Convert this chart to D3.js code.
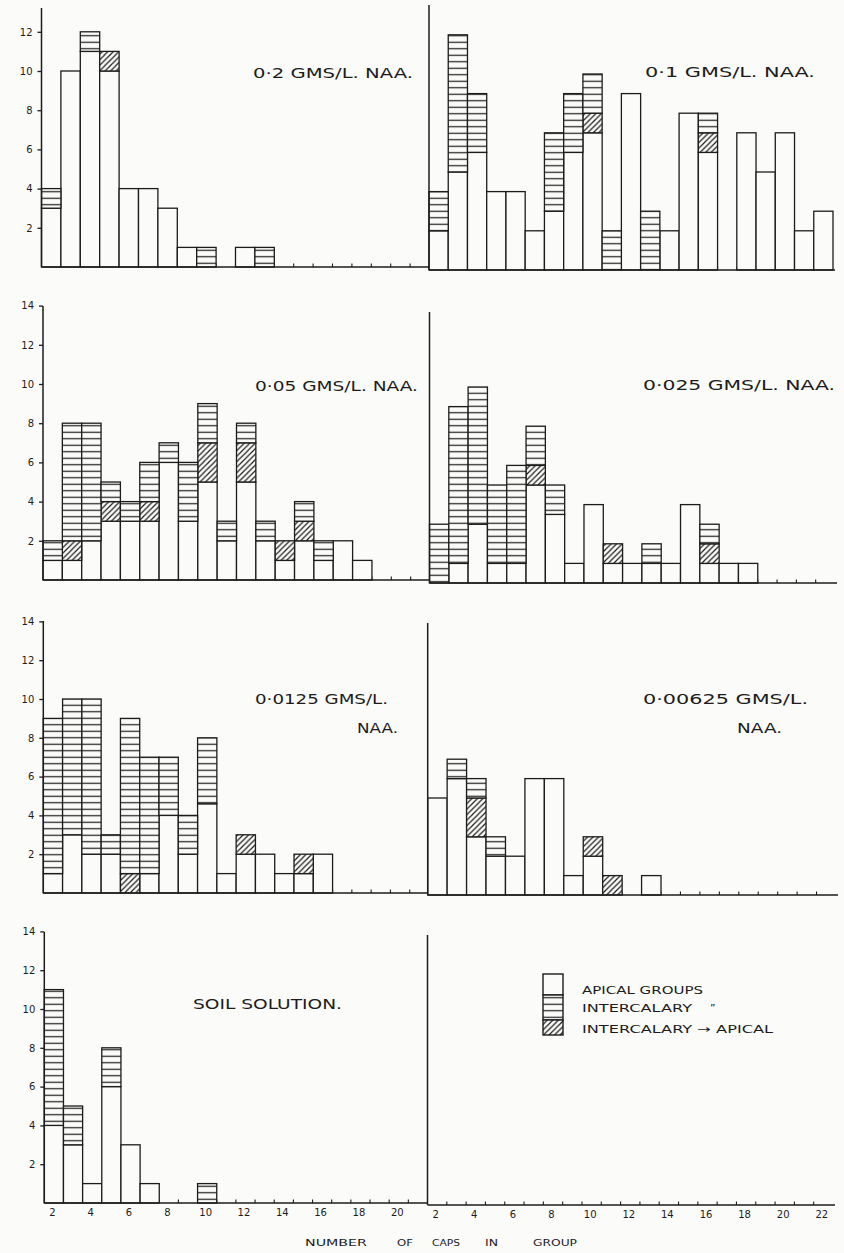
<!DOCTYPE html>
<html>
<head>
<meta charset="utf-8">
<script src="https://cdn.jsdelivr.net/npm/d3@7"></script>
<style>
  html, body { margin: 0; padding: 0; background: #fbfbfa; }
  svg { display: block; }
  text { font-family: "DejaVu Sans", sans-serif; fill: #1c1c1c; }
</style>
</head>
<body>
<svg id="chart" width="844" height="1253"></svg>
<script>
// Number of caps in a group (x categories)
const leftGroups  = d3.range(2, 22);   // 2 … 21
const rightGroups = d3.range(2, 23);   // 2 … 22
const leftAxisLabels  = [2, 4, 6, 8, 10, 12, 14, 16, 18, 20];
const rightAxisLabels = [2, 4, 6, 8, 10, 12, 14, 16, 18, 20, 22];
const yTicksShort = [2, 4, 6, 8, 10, 12];
const yTicksFull  = [2, 4, 6, 8, 10, 12, 14];

// 0·2 g/l NAA
const apical02   = [3, 10, 11, 10, 4, 4, 3, 1, 0, 0, 1, 0, 0, 0, 0, 0, 0, 0, 0, 0];
const convert02  = [0, 0, 0, 1, 0, 0, 0, 0, 0, 0, 0, 0, 0, 0, 0, 0, 0, 0, 0, 0];
const intercal02 = [1, 0, 1, 0, 0, 0, 0, 0, 1, 0, 0, 1, 0, 0, 0, 0, 0, 0, 0, 0];

// 0·1 g/l NAA
const apical01   = [2, 5, 6, 4, 4, 2, 3, 6, 7, 0, 9, 0, 2, 8, 6, 0, 7, 5, 7, 2, 3];
const convert01  = [0, 0, 0, 0, 0, 0, 0, 0, 1, 0, 0, 0, 0, 0, 1, 0, 0, 0, 0, 0, 0];
const intercal01 = [2, 7, 3, 0, 0, 0, 4, 3, 2, 2, 0, 3, 0, 0, 1, 0, 0, 0, 0, 0, 0];

// 0·05 g/l NAA
const apical005   = [1, 1, 2, 3, 3, 3, 6, 3, 5, 2, 5, 2, 1, 2, 1, 2, 1, 0, 0, 0];
const convert005  = [0, 1, 0, 1, 0, 1, 0, 0, 2, 0, 2, 0, 1, 1, 0, 0, 0, 0, 0, 0];
const intercal005 = [1, 6, 6, 1, 1, 2, 1, 3, 2, 1, 1, 1, 0, 1, 1, 0, 0, 0, 0, 0];

// 0·025 g/l NAA
const apical0025   = [0, 1, 3, 1, 1, 5, 3.5, 1, 4, 1, 1, 1, 1, 4, 1, 1, 1, 0, 0, 0, 0];
const convert0025  = [0, 0, 0, 0, 0, 1, 0, 0, 0, 1, 0, 0, 0, 0, 1, 0, 0, 0, 0, 0, 0];
const intercal0025 = [3, 8, 7, 4, 5, 2, 1.5, 0, 0, 0, 0, 1, 0, 0, 1, 0, 0, 0, 0, 0, 0];

// 0·0125 g/l NAA
const apical00125   = [1, 3, 2, 2, 0, 1, 4, 2, 4.6, 1, 2, 2, 1, 1, 2, 0, 0, 0, 0, 0];
const convert00125  = [0, 0, 0, 0, 1, 0, 0, 0, 0, 0, 1, 0, 0, 1, 0, 0, 0, 0, 0, 0];
const intercal00125 = [8, 7, 8, 1, 8, 6, 3, 2, 3.4, 0, 0, 0, 0, 0, 0, 0, 0, 0, 0, 0];

// 0·00625 g/l NAA
const apical000625   = [5, 6, 3, 2, 2, 6, 6, 1, 2, 0, 0, 1, 0, 0, 0, 0, 0, 0, 0, 0, 0];
const convert000625  = [0, 0, 2, 0, 0, 0, 0, 0, 1, 1, 0, 0, 0, 0, 0, 0, 0, 0, 0, 0, 0];
const intercal000625 = [0, 1, 1, 1, 0, 0, 0, 0, 0, 0, 0, 0, 0, 0, 0, 0, 0, 0, 0, 0, 0];

// Soil solution
const apicalSoil   = [4, 3, 1, 6, 3, 1, 0, 0, 0, 0, 0, 0, 0, 0, 0, 0, 0, 0, 0, 0];
const convertSoil  = [0, 0, 0, 0, 0, 0, 0, 0, 0, 0, 0, 0, 0, 0, 0, 0, 0, 0, 0, 0];
const intercalSoil = [7, 2, 0, 2, 0, 0, 0, 0, 1, 0, 0, 0, 0, 0, 0, 0, 0, 0, 0, 0];

const legendLabels = ["APICAL GROUPS", "INTERCALARY", "INTERCALARY \u2192 APICAL"];
const segmentKeys = ["apical", "convert", "intercal"];

const INK = "#1c1c1c";
const svg = d3.select("#chart");

// fill patterns: plain, horizontal rule (intercalary), diagonal hatch (intercalary -> apical)
const defs = svg.append("defs");
const stripes = defs.append("pattern").attr("id", "stripes")
  .attr("patternUnits", "userSpaceOnUse").attr("width", 10).attr("height", 6.5);
stripes.append("rect").attr("width", 10).attr("height", 6.5).attr("fill", "#fbfbfa");
stripes.append("line").attr("x1", 0).attr("x2", 10).attr("y1", 3.25).attr("y2", 3.25)
  .attr("stroke", INK).attr("stroke-width", 1.2);
const hatch = defs.append("pattern").attr("id", "hatch")
  .attr("patternUnits", "userSpaceOnUse").attr("width", 5.5).attr("height", 5.5);
hatch.append("rect").attr("width", 5.5).attr("height", 5.5).attr("fill", "#fbfbfa");
hatch.append("path").attr("d", "M0,5.5L5.5,0M-1.4,1.4L1.4,-1.4M4.1,6.9L6.9,4.1")
  .attr("stroke", INK).attr("stroke-width", 1.2);
const fills = { apical: "#fbfbfa", convert: "url(#hatch)", intercal: "url(#stripes)" };

const panels = [
  { groups: leftGroups, series: [apical02, convert02, intercal02], x0: 41.5, x1: 429.5,
    base: 267, unit: 19.6, top: 8, yTicks: yTicksShort, side: "left",
    titles: [{ text: "0\u00b72 GMS/L. NAA.", x: 253, y: 78, w: 160 }] },
  { groups: rightGroups, series: [apical01, convert01, intercal01], x0: 429, x1: 833,
    base: 270, unit: 19.6, top: 5, side: "right",
    titles: [{ text: "0\u00b71 GMS/L. NAA.", x: 645, y: 77, w: 170 }] },
  { groups: leftGroups, series: [apical005, convert005, intercal005], x0: 43, x1: 430,
    base: 580, unit: 19.6, top: 306, yTicks: yTicksFull, side: "left",
    titles: [{ text: "0\u00b705 GMS/L. NAA.", x: 255, y: 391, w: 163 }] },
  { groups: rightGroups, series: [apical0025, convert0025, intercal0025], x0: 429.5, x1: 835,
    base: 583, unit: 19.6, top: 312, side: "right",
    titles: [{ text: "0\u00b7025 GMS/L. NAA.", x: 643, y: 390, w: 192 }] },
  { groups: leftGroups, series: [apical00125, convert00125, intercal00125], x0: 43.3, x1: 429,
    base: 893, unit: 19.4, top: 621, yTicks: yTicksFull, side: "left",
    titles: [{ text: "0\u00b70125 GMS/L.", x: 255, y: 704, w: 133 },
             { text: "NAA.", x: 357, y: 733, w: 41 }] },
  { groups: rightGroups, series: [apical000625, convert000625, intercal000625], x0: 427.7, x1: 836,
    base: 895, unit: 19.4, top: 623, side: "right",
    titles: [{ text: "0\u00b700625 GMS/L.", x: 643, y: 704, w: 165 },
             { text: "NAA.", x: 737, y: 733, w: 45 }] },
  { groups: leftGroups, series: [apicalSoil, convertSoil, intercalSoil], x0: 44.3, x1: 427.5,
    base: 1203, unit: 19.4, top: 932, yTicks: yTicksFull, side: "left", xLabels: leftAxisLabels,
    titles: [{ text: "SOIL SOLUTION.", x: 193, y: 1009, w: 149 }] },
  { groups: rightGroups, series: null, x0: 427.5, x1: 833,
    base: 1205, unit: 19.4, top: 935, side: "right", xLabels: rightAxisLabels, titles: [] }
];

panels.forEach(p => {
  const g = svg.append("g");
  const x = d3.scaleBand().domain(p.groups).range([p.x0, p.x1]).paddingInner(0).paddingOuter(0);
  const y = d3.scaleLinear().domain([0, 14]).range([p.base, p.base - 14 * p.unit]);

  // small upward ticks on the base line at every group boundary
  g.append("g").selectAll("line").data(p.groups.slice(1))
    .join("line")
    .attr("x1", d => x(d)).attr("x2", d => x(d))
    .attr("y1", p.base).attr("y2", p.base - 3.5)
    .attr("stroke", INK).attr("stroke-width", 1.1);

  // stacked bars
  if (p.series) {
    const rows = p.groups.map((grp, i) => ({
      group: grp, apical: p.series[0][i], convert: p.series[1][i], intercal: p.series[2][i]
    }));
    const stacked = d3.stack().keys(segmentKeys)(rows);
    stacked.forEach(layer => {
      g.append("g").selectAll("rect")
        .data(layer.filter(d => d[1] > d[0]))
        .join("rect")
        .attr("x", d => x(d.data.group))
        .attr("width", x.bandwidth())
        .attr("y", d => y(d[1]))
        .attr("height", d => y(d[0]) - y(d[1]))
        .attr("fill", fills[layer.key])
        .attr("stroke", INK).attr("stroke-width", 1.3);
    });
  }

  // base line and vertical axis line
  g.append("line").attr("x1", p.x0).attr("x2", p.x1 + (p.side === "right" ? 2 : 0))
    .attr("y1", p.base).attr("y2", p.base).attr("stroke", INK).attr("stroke-width", 1.5);
  g.append("line").attr("x1", p.x0).attr("x2", p.x0)
    .attr("y1", p.top).attr("y2", p.base).attr("stroke", INK).attr("stroke-width", 1.5);

  // value axis on the left-hand panels
  if (p.yTicks) {
    const ax = g.append("g").attr("transform", `translate(${p.x0},0)`)
      .call(d3.axisLeft(y).tickValues(p.yTicks).tickSize(4).tickSizeOuter(0).tickPadding(5));
    ax.select(".domain").remove();
    ax.selectAll("line").attr("stroke", INK).attr("stroke-width", 1.3);
    ax.selectAll("text").attr("font-size", 10).attr("fill", INK)
      .style("font-family", "'DejaVu Sans', sans-serif");
  }

  // group-size labels along the bottom row
  if (p.xLabels) {
    const ax = g.append("g").attr("transform", `translate(${-1.5},${p.base})`)
      .call(d3.axisBottom(x).tickValues(p.xLabels).tickSize(0).tickPadding(6));
    ax.select(".domain").remove();
    ax.selectAll("text").attr("font-size", 10).attr("fill", INK)
      .style("font-family", "'DejaVu Sans', sans-serif");
  }

  // treatment titles
  p.titles.forEach(t => {
    g.append("text").attr("x", t.x).attr("y", t.y)
      .attr("font-size", 13.5)
      .attr("textLength", t.w).attr("lengthAdjust", "spacingAndGlyphs")
      .text(t.text);
  });
});

// x-axis title, spaced word by word
const titleWords = ["NUMBER", "OF", "CAPS", "IN", "GROUP"];
const titleX = [305, 397, 432, 485, 533];
const titleW = [62, 16, 28, 13, 44];
svg.append("g").selectAll("text").data(titleWords).join("text")
  .attr("x", (d, i) => titleX[i]).attr("y", 1246)
  .attr("font-size", 9.5)
  .attr("textLength", (d, i) => titleW[i]).attr("lengthAdjust", "spacingAndGlyphs")
  .text(d => d);

// legend
const legend = svg.append("g");
const keyBoxes = [
  { key: "apical",   y0: 974,  y1: 995 },
  { key: "intercal", y0: 995,  y1: 1020 },
  { key: "convert",  y0: 1020, y1: 1035 }
];
legend.selectAll("rect").data(keyBoxes).join("rect")
  .attr("x", 543).attr("width", 20)
  .attr("y", d => d.y0).attr("height", d => d.y1 - d.y0)
  .attr("fill", d => fills[d.key])
  .attr("stroke", INK).attr("stroke-width", 1.4);
const legendText = [
  { y: 994,  w: 121 },
  { y: 1012, w: 110 },
  { y: 1033, w: 191 }
];
legend.selectAll("text.lab").data(legendLabels).join("text").attr("class", "lab")
  .attr("x", 582).attr("y", (d, i) => legendText[i].y)
  .attr("font-size", 10.5)
  .attr("textLength", (d, i) => legendText[i].w).attr("lengthAdjust", "spacingAndGlyphs")
  .text(d => d);
// ditto mark after the second entry
legend.append("text").attr("x", 710).attr("y", 1012).attr("font-size", 10.5).text("\u201D");
</script>
</body>
</html>
